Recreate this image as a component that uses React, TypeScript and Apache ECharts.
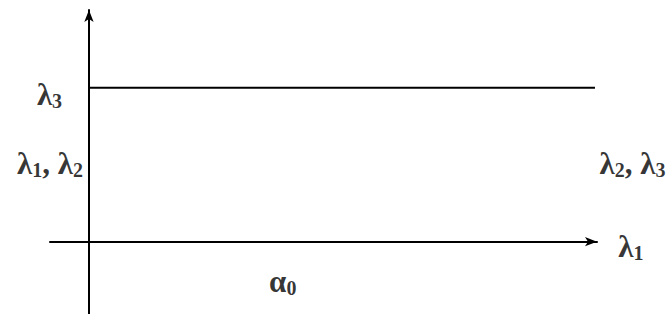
import React, { useEffect, useRef } from "react";
import * as echarts from "echarts";

// Schematic: one horizontal level line over the positive axis
const levelLine: [number, number][] = [
  [0, 1],
  [1, 1],
];

// Annotation labels (data coordinates of label centres)
const labelTexts = ["{m|λ}{s|3}", "{m|λ}{s|1}{m|, λ}{s|2}", "{m|λ}{s|2}{m|, λ}{s|3}", "{m|λ}{s|1}", "{m|α}{s|0}"];
const labelX = [-0.078, -0.077, 1.074, 1.071, 0.383];
const labelY = [0.955, 0.506, 0.506, -0.032, -0.26];

const xRange = [-0.077, 1.004];
const yRange = [-0.47, 1.506];

export default function App() {
  const ref = useRef<HTMLDivElement>(null);
  useEffect(() => {
    if (!ref.current) return;
    const chart = echarts.init(ref.current, undefined, { renderer: "svg" });
    const font = "Liberation Serif";
    const rich = {
      m: { fontSize: 31, fontWeight: "bold", fontFamily: font, color: "#000" },
      s: { fontSize: 20, fontWeight: "bold", fontFamily: font, color: "#000", padding: [12, 0, 0, 0] },
    };
    const axisCommon = {
      type: "value",
      axisLine: {
        show: true,
        onZero: true,
        symbol: ["none", "arrow"],
        symbolSize: [7, 12],
        lineStyle: { color: "#000", width: 2 },
      },
      axisTick: { show: false },
      axisLabel: { show: false },
      splitLine: { show: false },
    };
    chart.setOption({
      animation: false,
      backgroundColor: "#fff",
      grid: { left: 50, right: 75, top: 10, bottom: 0, containLabel: false },
      xAxis: { ...axisCommon, min: xRange[0], max: xRange[1] },
      yAxis: { ...axisCommon, min: yRange[0], max: yRange[1] },
      series: [
        {
          type: "line",
          data: levelLine,
          symbol: "none",
          lineStyle: { color: "#000", width: 2 },
        },
        {
          type: "scatter",
          clip: false,
          symbolSize: 0,
          data: labelTexts.map((t, i) => ({
            value: [labelX[i], labelY[i]],
            label: {
              show: true,
              position: "inside",
              formatter: t,
              fontSize: 31,
              fontWeight: "bold",
              fontFamily: font,
              color: "#000",
              rich,
            },
          })),
        },
      ],
    });
    return () => chart.dispose();
  }, []);
  return (
    <div
      ref={ref}
      style={{ position: "fixed", left: 0, top: 0, width: 672, height: 314, background: "#fff" }}
    />
  );
}
